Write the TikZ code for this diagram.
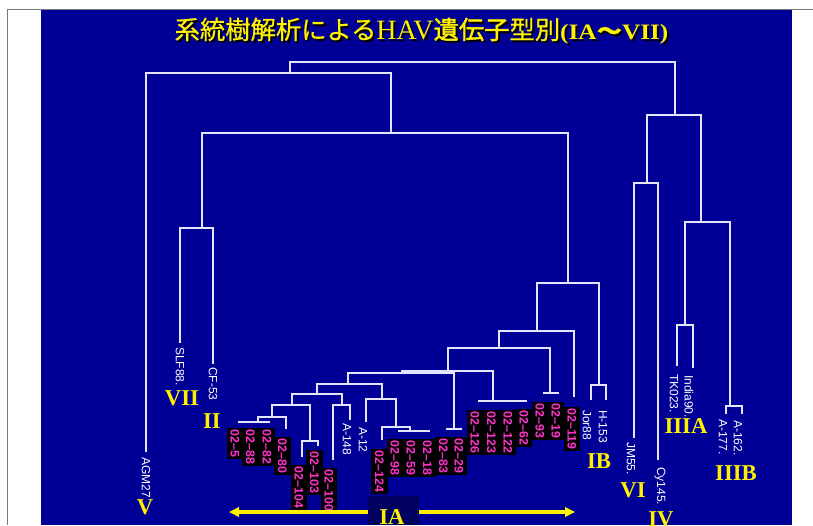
\documentclass[tikz,border=0pt]{standalone}
\usepackage{graphicx}
\usepackage{fontspec}
\setmainfont{Liberation Serif}
\newfontfamily\lsans{Liberation Sans}
\newfontfamily\lserif{Liberation Serif}
\newfontfamily\jp{Noto Sans CJK JP}[FakeBold=0.6]
\newfontfamily\jpb{Noto Sans CJK JP}[FakeBold=1.6]
\usetikzlibrary{arrows.meta}
\definecolor{slide}{RGB}{0,0,150}
\definecolor{navy}{RGB}{0,0,95}
\definecolor{treecol}{RGB}{228,228,250}
\definecolor{mag}{RGB}{255,51,204}
\definecolor{frame}{RGB}{120,120,120}
\newcommand{\titletext}{{\jp\fontsize{19}{19}\selectfont 系統樹解析による}{\lserif\fontsize{21}{21}\selectfont HAV}{\jpb\fontsize{19}{19}\selectfont 遺伝子}{\jp\fontsize{19}{19}\selectfont 型別}\scalebox{1.15}[1]{\lserif\bfseries\fontsize{16.5}{16.5}\selectfont (IA{\jp 〜}VII)}}
\tikzset{
  tree/.style={draw=treecol,line width=1.1pt},
  wlab/.style={rotate=-90,anchor=west,text=white,inner sep=0pt,font=\lsans\fontsize{9}{9}\selectfont},
  mlab/.style={rotate=-90,anchor=west,fill=black,text=mag,inner xsep=1.2pt,inner ysep=0pt,minimum height=12.6pt,font=\lsans\bfseries\fontsize{9.3}{9}\selectfont},
  roman/.style={text=yellow,inner sep=0pt,font=\lserif\bfseries\fontsize{17}{17}\selectfont},
}
\begin{document}
\begin{tikzpicture}[x=0.75pt,y=-0.75pt]
\useasboundingbox (0,0) rectangle (813,525);
\clip (0,0) rectangle (813,525);
\fill[white] (0,0) rectangle (813,525);
\fill[slide] (41,10) rectangle (792,525);
\draw[frame,line width=1pt] (7.5,525) -- (7.5,9.5) -- (813,9.5);
% title
\node[anchor=base,text=black,inner sep=0pt] (titleshadow) at (423.5,41) {\titletext};
\node[anchor=base,text=yellow,inner sep=0pt] (title) at (421.5,39) {\titletext};
% tree coordinates
\coordinate (root) at (482,62);
\coordinate (nA) at (290,73);
\coordinate (nV) at (675,115);
\coordinate (lAGM) at (146,452);
\coordinate (nB) at (391,133);
\coordinate (nC) at (202,228);
\coordinate (nD) at (568,283);
\coordinate (lSLF) at (180,343);
\coordinate (lCF) at (213,364);
\coordinate (nE) at (537,331);
\coordinate (nIB) at (599,385);
\coordinate (lJor) at (591,400);
\coordinate (lH) at (606,400);
\coordinate (nF) at (499,348);
\coordinate (l119) at (574,397);
\coordinate (nG) at (448,371);
\coordinate (nH) at (550,393);
\coordinate (l93) at (543,393);
\coordinate (l19) at (559,393);
\coordinate (nI) at (402,373);
\coordinate (nJ) at (493,401);
\coordinate (l126) at (478,401);
\coordinate (l123) at (494,401);
\coordinate (l122) at (510,401);
\coordinate (l62) at (527,401);
\coordinate (nK) at (348,384);
\coordinate (nL) at (454,429);
\coordinate (l83) at (446,429);
\coordinate (l29) at (462,429);
\coordinate (nM) at (317,394);
\coordinate (nN) at (382,399);
\coordinate (lA12) at (366,422);
\coordinate (nO) at (396,427);
\coordinate (l124) at (382,440);
\coordinate (nP) at (410,431);
\coordinate (l98) at (398,431);
\coordinate (l59) at (414,431);
\coordinate (l18) at (430,431);
\coordinate (nQ) at (292,405);
\coordinate (nR) at (342,405);
\coordinate (l100) at (333,460);
\coordinate (lA148) at (350,420);
\coordinate (nS) at (272,417);
\coordinate (nT) at (310,441);
\coordinate (l104) at (302,457);
\coordinate (l103) at (318,446);
\coordinate (nU) at (258,422);
\coordinate (l80) at (286,429);
\coordinate (l5) at (238,422);
\coordinate (l88) at (254,422);
\coordinate (l82) at (270,422);
\coordinate (nW) at (647,183);
\coordinate (nX) at (701,222);
\coordinate (lJM) at (634,438);
\coordinate (lCy) at (658,460);
\coordinate (nY) at (685,325);
\coordinate (nZ) at (730,406);
\coordinate (lTK) at (677,366);
\coordinate (lIn) at (693,368);
\coordinate (l177) at (726,414);
\coordinate (l162) at (742,414);
% tree edges
\draw[tree] (root) -| (nA);  \draw[tree] (root) -| (nV);
\draw[tree] (nA) -| (lAGM);  \draw[tree] (nA) -| (nB);
\draw[tree] (nB) -| (nC);    \draw[tree] (nB) -| (nD);
\draw[tree] (nC) -| (lSLF);  \draw[tree] (nC) -| (lCF);
\draw[tree] (nD) -| (nE);    \draw[tree] (nD) -| (nIB);
\draw[tree] (nIB) -| (lJor); \draw[tree] (nIB) -| (lH);
\draw[tree] (nE) -| (nF);    \draw[tree] (nE) -| (l119);
\draw[tree] (nF) -| (nG);    \draw[tree] (nF) -| (nH);
\draw[tree] (nH) -| (l93);   \draw[tree] (nH) -| (l19);
\draw[tree] (nG) -| (nI);    \draw[tree] (nG) -| (nJ);
\draw[tree] (nJ) -| (l126);  \draw[tree] (nJ) -| (l123);
\draw[tree] (nJ) -| (l122);  \draw[tree] (nJ) -| (l62);
\draw[tree] (nI) -| (nK);    \draw[tree] (nI) -| (nL);
\draw[tree] (nL) -| (l83);   \draw[tree] (nL) -| (l29);
\draw[tree] (nK) -| (nM);    \draw[tree] (nK) -| (nN);
\draw[tree] (nN) -| (lA12);  \draw[tree] (nN) -| (nO);
\draw[tree] (nO) -| (l124);  \draw[tree] (nO) -| (nP);
\draw[tree] (nP) -| (l98);   \draw[tree] (nP) -| (l59);  \draw[tree] (nP) -| (l18);
\draw[tree] (nM) -| (nQ);    \draw[tree] (nM) -| (nR);
\draw[tree] (nR) -| (l100);  \draw[tree] (nR) -| (lA148);
\draw[tree] (nQ) -| (nS);    \draw[tree] (nQ) -| (nT);
\draw[tree] (nT) -| (l104);  \draw[tree] (nT) -| (l103);
\draw[tree] (nS) -| (nU);    \draw[tree] (nS) -| (l80);
\draw[tree] (nU) -| (l5);    \draw[tree] (nU) -| (l88);  \draw[tree] (nU) -| (l82);
\draw[tree] (nV) -| (nW);    \draw[tree] (nV) -| (nX);
\draw[tree] (nW) -| (lJM);   \draw[tree] (nW) -| (lCy);
\draw[tree] (nX) -| (nY);    \draw[tree] (nX) -| (nZ);
\draw[tree] (nY) -| (lTK);   \draw[tree] (nY) -| (lIn);
\draw[tree] (nZ) -| (l177);  \draw[tree] (nZ) -| (l162);
% white labels
\node[wlab] (tAGM) at (146,457) {AGM27};
\node[wlab] (tSLF) at (180,347) {SLF88.};
\node[wlab] (tCF) at (213,367) {CF-53};
\node[wlab] (tA148) at (347,423) {A-148};
\node[wlab] (tA12) at (363,427) {A-12};
\node[wlab] (tJor) at (587,410) {Jor88};
\node[wlab] (tH) at (603,410) {H-153};
\node[wlab] (tJM) at (631,442) {JM55.};
\node[wlab] (tCy) at (660,467) {Cy145.};
\node[wlab] (tTK) at (674,374) {TK023.};
\node[wlab] (tIn) at (689,375) {India90.};
\node[wlab] (t177) at (723,419) {A-177.};
\node[wlab] (t162) at (738,420) {A-162.};
% magenta labels
\node[mlab] (m5) at (235,428) {02–5};
\node[mlab] (m88) at (250.5,428) {02–88};
\node[mlab] (m82) at (267,428) {02–82};
\node[mlab] (m80) at (282.5,437) {02–80};
\node[mlab] (m104) at (299,465) {02–104};
\node[mlab] (m103) at (314.5,450) {02–103};
\node[mlab] (m100) at (329,468) {02–100};
\node[mlab] (m124) at (379.5,449) {02–124};
\node[mlab] (m98) at (395,439) {02–98};
\node[mlab] (m59) at (411,439) {02–59};
\node[mlab] (m18) at (427.5,439) {02–18};
\node[mlab] (m83) at (443.5,437) {02–83};
\node[mlab] (m29) at (459,437) {02–29};
\node[mlab] (m126) at (475,410) {02–126};
\node[mlab] (m123) at (491.5,410) {02–123};
\node[mlab] (m122) at (508,410) {02–122};
\node[mlab] (m62) at (524,409) {02–62};
\node[mlab] (m93) at (540,402) {02–93};
\node[mlab] (m19) at (556,402) {02–19};
\node[mlab] (m119) at (572,407) {02–119};
% genotype labels
\node[roman] (gVII) at (182,398) {VII};
\node[roman] (gII) at (212,421) {II};
\node[roman] (gV) at (145,507) {V};
\node[roman] (gIB) at (599,461) {IB};
\node[roman] (gVI) at (633,490) {VI};
\node[roman] (gIV) at (661,519) {IV};
\node[roman] (gIIIA) at (686,426) {IIIA};
\node[roman] (gIIIB) at (736,473) {IIIB};
% IA arrow
\coordinate (arrL) at (229,512);
\coordinate (arrR) at (575,512);
\draw[yellow,line width=2.3pt,{Triangle[length=7.5pt,width=7pt]}-{Triangle[length=7.5pt,width=7pt]}] (arrL) -- (arrR);
\fill[navy] (368,496) rectangle (419,525);
\node[roman] (gIA) at (392,517) {IA};
\end{tikzpicture}
\end{document}
